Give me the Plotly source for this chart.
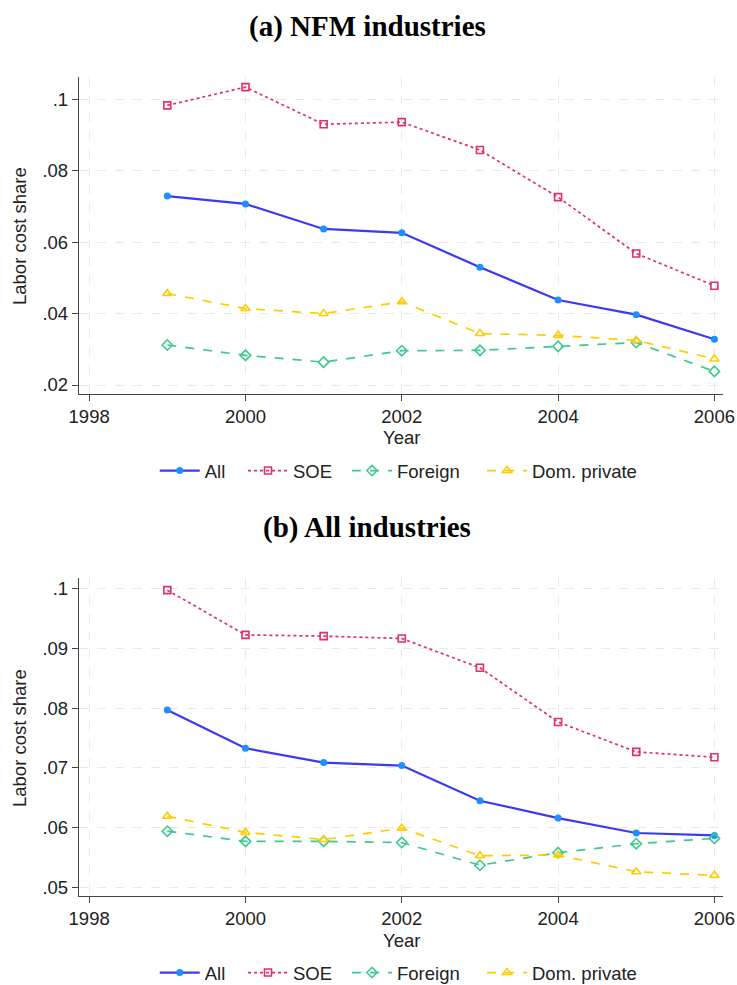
import plotly.graph_objects as go

years = [1999, 2000, 2001, 2002, 2003, 2004, 2005, 2006]

# Panel (a) NFM industries
nfm_all = [0.0729, 0.0707, 0.0637, 0.0626, 0.0530, 0.0438, 0.0397, 0.0328]
nfm_soe = [0.0983, 0.1034, 0.0930, 0.0936, 0.0858, 0.0726, 0.0568, 0.0478]
nfm_foreign = [0.0312, 0.0283, 0.0264, 0.0296, 0.0297, 0.0308, 0.0319, 0.0238]
nfm_dompriv = [0.0456, 0.0414, 0.0400, 0.0433, 0.0344, 0.0339, 0.0325, 0.0273]

# Panel (b) All industries
all_all = [0.0797, 0.0733, 0.0709, 0.0704, 0.0645, 0.0616, 0.0591, 0.0587]
all_soe = [0.0998, 0.0923, 0.0921, 0.0917, 0.0868, 0.0777, 0.0727, 0.0718]
all_foreign = [0.0594, 0.0577, 0.0577, 0.0575, 0.0537, 0.0558, 0.0573, 0.0582]
all_dompriv = [0.0619, 0.0592, 0.0580, 0.0599, 0.0553, 0.0554, 0.0526, 0.0520]

series_names = ["All", "SOE", "Foreign", "Dom. private"]
x_ticks = [1998, 2000, 2002, 2004, 2006]
y_ticks_a = [0.02, 0.04, 0.06, 0.08, 0.1]
y_tick_labels_a = [".02", ".04", ".06", ".08", ".1"]
y_ticks_b = [0.05, 0.06, 0.07, 0.08, 0.09, 0.1]
y_tick_labels_b = [".05", ".06", ".07", ".08", ".09", ".1"]

styles = [
    dict(line=dict(color="#3a3af5", width=2.2, dash="solid"),
         marker=dict(symbol="circle", size=7, color="#1e8fff")),
    dict(line=dict(color="#e0306a", width=1.7, dash="dot"),
         marker=dict(symbol="square-open", size=7, color="#e0306a", line=dict(width=1.6))),
    dict(line=dict(color="#3cc98e", width=1.7, dash="dash"),
         marker=dict(symbol="diamond-open", size=8, color="#3cc98e", line=dict(width=1.6))),
    dict(line=dict(color="#ffcc00", width=1.7, dash="dash"),
         marker=dict(symbol="triangle-up-open", size=8, color="#ffcc00", line=dict(width=1.6))),
]

W, H = 737, 985


def px(x):
    return x / W


def py(y):
    return 1 - y / H


fig = go.Figure()

panels = [
    (nfm_all, nfm_soe, nfm_foreign, nfm_dompriv),
    (all_all, all_soe, all_foreign, all_dompriv),
]
legend_ids = []
for p, data in enumerate(panels):
    xa = "x" if p == 0 else "x2"
    ya = "y" if p == 0 else "y2"
    for i, (name, vals, st) in enumerate(zip(series_names, data, styles)):
        n = p * 4 + i + 1
        lg = "legend" if n == 1 else f"legend{n}"
        legend_ids.append(lg)
        fig.add_trace(go.Scatter(
            x=years, y=vals, name=name, mode="lines+markers",
            line=st["line"], marker=st["marker"],
            xaxis=xa, yaxis=ya, legend=lg, showlegend=True,
        ))

x_dom = [px(79), px(723)]
dom_a = [py(394), py(77)]
dom_b = [py(896), py(578)]

FS = 18.5
axis_common = dict(
    showline=True, linecolor="#444444", linewidth=1.3,
    ticks="outside", ticklen=6, tickcolor="#444444",
    showgrid=True, gridcolor="#e9e9e9", griddash="dash", gridwidth=1,
    zeroline=False, automargin=False, ticklabeloverflow="allow",
    tickfont=dict(family="Liberation Sans, Arial", size=FS, color="#222222"),
)

legend_common = dict(
    orientation="h", xanchor="left", yanchor="middle",
    font=dict(family="Liberation Sans, Arial", size=FS, color="#222222"),
    itemwidth=40, tracegroupgap=0, bgcolor="rgba(0,0,0,0)", borderwidth=0,
)

# left edge of each legend entry's symbol, and vertical centre of each legend row
legend_x = [160.7, 249, 353, 488]
legend_rows = [471, 973]
legend_layout = {}
for p in range(2):
    for i in range(4):
        lg = legend_ids[p * 4 + i]
        legend_layout[lg] = dict(x=px(legend_x[i] - 6), y=py(legend_rows[p]), **legend_common)

fig.update_layout(
    width=W, height=H,
    margin=dict(l=0, r=0, t=0, b=0, autoexpand=False),
    paper_bgcolor="white", plot_bgcolor="white",
    xaxis=dict(domain=x_dom, anchor="y", range=[1997.87, 2006.11],
               tickvals=x_ticks, **axis_common),
    yaxis=dict(domain=dom_a, anchor="x", range=[0.01748, 0.10624],
               tickvals=y_ticks_a, ticktext=y_tick_labels_a, **axis_common),
    xaxis2=dict(domain=x_dom, anchor="y2", range=[1997.87, 2006.11],
                tickvals=x_ticks, **axis_common),
    yaxis2=dict(domain=dom_b, anchor="x2", range=[0.04854, 0.10184],
                tickvals=y_ticks_b, ticktext=y_tick_labels_b, **axis_common),
    showlegend=True,
    **legend_layout,
)

ann_font = dict(family="Liberation Sans, Arial", size=FS, color="#222222")
title_font = dict(family="Liberation Serif, Times New Roman", size=29, color="black")
annotations = [
    dict(text="<b>(a) NFM industries</b>", x=px(367), y=py(26), font=title_font),
    dict(text="<b>(b) All industries</b>", x=px(367), y=py(527), font=title_font),
    dict(text="Year", x=px(401), y=py(437), font=ann_font),
    dict(text="Year", x=px(401), y=py(940), font=ann_font),
    dict(text="Labor cost share", x=px(19), y=py(236), textangle=-90, font=ann_font),
    dict(text="Labor cost share", x=px(19), y=py(738), textangle=-90, font=ann_font),
]
for a in annotations:
    fig.add_annotation(xref="paper", yref="paper", showarrow=False,
                       xanchor="center", yanchor="middle", **a)

# remove the browser's default 8px body margin so the figure fills the window
fig.write_html("out.html", config={"displayModeBar": False},
               post_script="document.body.style.margin='0px';")
